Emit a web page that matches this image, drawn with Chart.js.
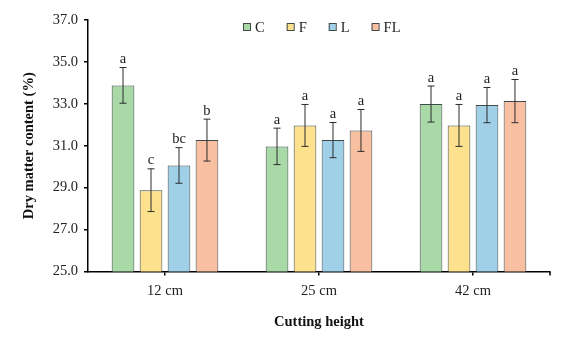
<!DOCTYPE html>
<html>
<head>
<meta charset="utf-8">
<script src="https://cdn.jsdelivr.net/npm/chart.js@4.4.0/dist/chart.umd.min.js"></script>
<style>
  html, body { margin: 0; padding: 0; background: #ffffff; }
  #wrap { width: 567px; height: 339px; }
</style>
</head>
<body>
<div id="wrap"><canvas id="grafico"></canvas></div>
<script>
// alturas de corte y tratamientos
var alturas = ['12 cm', '25 cm', '42 cm'];
var tratamientos = ['C', 'F', 'L', 'FL'];

// materia seca (%) por tratamiento
var valoresC = [33.88, 30.97, 32.99];
var valoresF = [28.88, 31.97, 31.97];
var valoresL = [30.06, 31.27, 32.94];
var valoresFL = [31.27, 31.73, 33.13];

// desviaciones (barras de error)
var errorC = [0.85, 0.87, 0.86];
var errorF = [1.02, 1.00, 1.00];
var errorL = [0.85, 0.84, 0.84];
var errorFL = [1.00, 1.00, 1.03];

// letras de significancia
var letrasC = ['a', 'a', 'a'];
var letrasF = ['c', 'a', 'a'];
var letrasL = ['bc', 'a', 'a'];
var letrasFL = ['b', 'a', 'a'];

var ticksY = [25, 27, 29, 31, 33, 35, 37];

var colores = ['#a8d9a6', '#fde18c', '#a0cfe8', '#f9bfa1'];
var borde = '#3f4a4a';
var fuente = "'Liberation Serif', 'DejaVu Serif', serif";

var valores = [valoresC, valoresF, valoresL, valoresFL];
var errores = [errorC, errorF, errorL, errorFL];
var letras = [letrasC, letrasF, letrasL, letrasFL];

var datasets = [];
for (var i = 0; i < tratamientos.length; i++) {
    datasets.push({
        label: tratamientos[i],
        data: valores[i],
        errores: errores[i],
        letras: letras[i],
        backgroundColor: colores[i],
        borderColor: borde,
        borderWidth: 1,
        categoryPercentage: 0.727,
        barPercentage: 0.81
    });
}

// barras de error, letras, leyenda y marca final del eje X
var extras = {
    id: 'extras',
    afterDatasetsDraw: function (chart) {
        var ctx = chart.ctx;
        var y = chart.scales.y;
        ctx.save();
        chart.data.datasets.forEach(function (ds, d) {
            var meta = chart.getDatasetMeta(d);
            meta.data.forEach(function (bar, k) {
                var top = y.getPixelForValue(ds.data[k] + ds.errores[k]);
                var bot = y.getPixelForValue(ds.data[k] - ds.errores[k]);
                ctx.strokeStyle = '#2b2b2b';
                ctx.lineWidth = 1;
                ctx.beginPath();
                ctx.moveTo(bar.x, top);
                ctx.lineTo(bar.x, bot);
                ctx.moveTo(bar.x - 3.5, top);
                ctx.lineTo(bar.x + 3.5, top);
                ctx.moveTo(bar.x - 3.5, bot);
                ctx.lineTo(bar.x + 3.5, bot);
                ctx.stroke();

                ctx.fillStyle = '#222222';
                ctx.font = '14.5px ' + fuente;
                ctx.textAlign = 'center';
                ctx.textBaseline = 'bottom';
                ctx.fillText(ds.letras[k], bar.x, top - 1);
            });
        });

        // leyenda
        ctx.font = '14.5px ' + fuente;
        ctx.textBaseline = 'middle';
        ctx.textAlign = 'left';
        var lx = 243;
        var ly = 27;
        chart.data.datasets.forEach(function (ds) {
            ctx.fillStyle = ds.backgroundColor;
            ctx.fillRect(lx, ly - 3.5, 7, 7);
            ctx.strokeStyle = borde;
            ctx.lineWidth = 1;
            ctx.strokeRect(lx + 0.5, ly - 3.5, 7, 7);
            ctx.fillStyle = '#222222';
            ctx.fillText(ds.label, lx + 12, ly + 1);
            lx += 12 + ctx.measureText(ds.label).width + 22;
        });

        // marca al final del eje X
        var x = chart.scales.x;
        ctx.strokeStyle = '#000000';
        ctx.lineWidth = 1.5;
        ctx.beginPath();
        ctx.moveTo(x.right, x.top);
        ctx.lineTo(x.right, x.top + 4);
        ctx.stroke();
        ctx.restore();
    }
};

var grafico = new Chart(document.getElementById('grafico'), {
    type: 'bar',
    data: {
        labels: alturas,
        datasets: datasets
    },
    plugins: [extras],
    options: {
        responsive: true,
        maintainAspectRatio: false,
        animation: false,
        layout: {
            padding: { left: 0, right: 17, top: 20, bottom: 0 }
        },
        plugins: {
            legend: { display: false },
            tooltip: { enabled: false }
        },
        scales: {
            x: {
                offset: true,
                afterFit: function (scale) { scale.height = 67.5; },
                grid: {
                    offset: false,
                    drawOnChartArea: false,
                    drawTicks: true,
                    tickLength: 4,
                    color: '#000000',
                    lineWidth: 1.5
                },
                border: { color: '#000000', width: 1.5 },
                ticks: {
                    color: '#222222',
                    padding: 7,
                    font: { family: fuente, size: 14.5 }
                },
                title: {
                    display: true,
                    text: 'Cutting height',
                    color: '#111111',
                    padding: { top: 0, bottom: 8 },
                    font: { family: fuente, size: 14.5, weight: 'bold' }
                }
            },
            y: {
                min: 25,
                max: 37,
                afterFit: function (scale) { scale.width = 88; },
                afterBuildTicks: function (scale) {
                    scale.ticks = ticksY.map(function (v) { return { value: v }; });
                },
                grid: {
                    drawOnChartArea: false,
                    drawTicks: true,
                    tickLength: 4,
                    color: '#000000',
                    lineWidth: 1.5
                },
                border: { color: '#000000', width: 1.5 },
                ticks: {
                    color: '#222222',
                    padding: 6,
                    font: { family: fuente, size: 14.5 },
                    callback: function (v) { return Number(v).toFixed(1); }
                },
                title: {
                    display: true,
                    text: 'Dry matter content (%)',
                    color: '#111111',
                    padding: { top: 21, bottom: 0 },
                    font: { family: fuente, size: 14.5, weight: 'bold' }
                }
            }
        }
    }
});
</script>
</body>
</html>
